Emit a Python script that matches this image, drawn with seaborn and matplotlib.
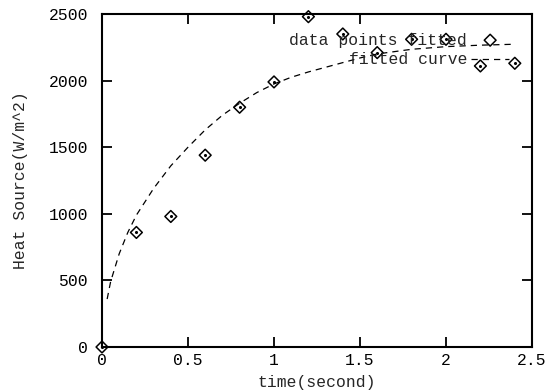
import matplotlib
matplotlib.use("Agg")
import matplotlib.pyplot as plt
import seaborn as sns
import pandas as pd

time_pts = [0.0, 0.2, 0.4, 0.6, 0.8, 1.0, 1.2, 1.4, 1.6, 1.8, 2.0, 2.2, 2.4]
heat_pts = [0, 860, 980, 1440, 1800, 1990, 2480, 2350, 2210, 2310, 2310, 2110, 2130]

# fitted curve
time_fit = [0.03, 0.05, 0.1, 0.15, 0.2, 0.3, 0.4, 0.5, 0.6, 0.7, 0.8, 0.9, 1.0,
            1.1, 1.2, 1.3, 1.4, 1.5, 1.6, 1.8, 2.0, 2.2, 2.4]
heat_fit = [360, 490, 700, 860, 990, 1190, 1360, 1500, 1630, 1740, 1830, 1910, 1975,
            2025, 2065, 2100, 2135, 2170, 2200, 2235, 2255, 2266, 2273]

x_ticks = [0, 0.5, 1, 1.5, 2, 2.5]
x_labels = ["0", "0.5", "1", "1.5", "2", "2.5"]
y_ticks = [0, 500, 1000, 1500, 2000, 2500]

pts = pd.DataFrame({"time": time_pts, "heat": heat_pts})
fit = pd.DataFrame({"time": time_fit, "heat": heat_fit})

sns.set_style("ticks")
plt.rcParams["font.family"] = ["Liberation Mono", "DejaVu Sans Mono"]
fs = 11.8

fig = plt.figure(figsize=(5.53, 3.92), dpi=100)
ax = fig.add_axes([102 / 553, 45 / 392, 430 / 553, 333 / 392])

sns.scatterplot(data=pts, x="time", y="heat", ax=ax, marker="D", s=36,
                facecolor="none", edgecolor="black", linewidth=1.1,
                clip_on=False, label="data points fitted", zorder=3)
# small dot in the middle of each diamond
ax.scatter(time_pts, heat_pts, s=1.5, color="black", clip_on=False, zorder=4)
sns.lineplot(data=fit, x="time", y="heat", ax=ax, estimator=None, sort=False,
             color="black", linewidth=0.9, linestyle=(0, (5, 4)),
             label="fitted curve")

ax.set_xlim(0, 2.5)
ax.set_ylim(0, 2500)
ax.set_xticks(x_ticks)
ax.set_xticklabels(x_labels)
ax.set_yticks(y_ticks)
ax.tick_params(direction="in", length=7, width=1.3, top=True, right=True,
               labelsize=fs, colors="black")
ax.tick_params(axis="x", pad=4)
ax.tick_params(axis="y", pad=10)
for sp in ax.spines.values():
    sp.set_visible(True)
    sp.set_linewidth(1.5)
    sp.set_color("black")

ax.set_xlabel("time(second)", fontsize=fs, labelpad=5)
ax.set_ylabel("Heat Source(W/m^2)", fontsize=fs, labelpad=15)

ax.legend(loc="upper right", bbox_to_anchor=(509 / 553, 1 - 32.5 / 392),
          bbox_transform=fig.transFigure, frameon=False, markerfirst=False,
          fontsize=fs, handlelength=2.3, handletextpad=0.25, labelspacing=0.3,
          borderpad=0, borderaxespad=0)

fig.savefig("out.png", dpi=100)
